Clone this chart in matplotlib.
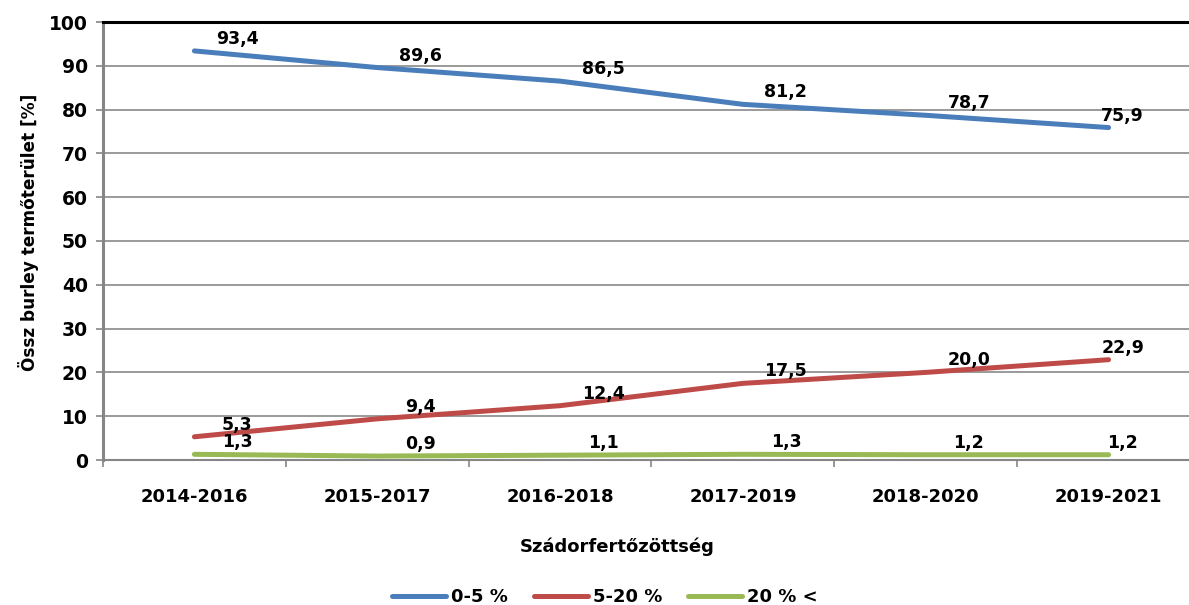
import matplotlib.pyplot as plt
import numpy as np

plt.rcParams['font.family'] = ['DejaVu Sans']
plt.rcParams['font.weight'] = 'bold'

# Data
periods = ["2014-2016", "2015-2017", "2016-2018", "2017-2019", "2018-2020", "2019-2021"]
low = [93.4, 89.6, 86.5, 81.2, 78.7, 75.9]
mid = [5.3, 9.4, 12.4, 17.5, 20.0, 22.9]
high = [1.3, 0.9, 1.1, 1.3, 1.2, 1.2]
series_names = ["0-5 %", "5-20 %", "20 % <"]

colors = ['#4A7EBB', '#BE4B48', '#98B954']

fig = plt.figure(figsize=(11.89, 6.05), dpi=100)
W, H = 1189, 605
ax = fig.add_axes([103 / W, 1 - 460 / H, (1200 - 103) / W, (460 - 22) / H])

x = np.arange(len(periods))
for vals, name, c in zip([low, mid, high], series_names, colors):
    ax.plot(x, vals, color=c, lw=3.6, solid_capstyle='round', label=name, zorder=3)
    for i, v in enumerate(vals):
        dx = 14 if i == len(vals) - 1 else 43
        ax.annotate(f"{v:.1f}".replace('.', ','), (i, v), xytext=(dx, 12),
                    textcoords='offset pixels', ha='center', va='center',
                    fontsize=12.5, fontweight='bold', color='black', zorder=4)

ax.set_xlim(-0.5, 5.5)
ax.set_ylim(0, 100)
ax.set_yticks(np.arange(0, 101, 10))
ax.set_xticks(x)
ax.set_xticklabels(periods)
ax.set_xticks(np.arange(-0.5, 6, 1), minor=True)
ax.tick_params(axis='x', which='major', length=0, pad=20, labelsize=13)
ax.tick_params(axis='x', which='minor', length=5, color='#868686', width=1.2)
ax.tick_params(axis='y', length=5, color='#868686', width=1.2, labelsize=13.5, pad=6)

ax.grid(axis='y', color='#929292', lw=1.3, zorder=0)
ax.spines['right'].set_visible(False)
ax.spines['top'].set_color('black')
ax.spines['top'].set_linewidth(2.2)
ax.spines['left'].set_color('#868686')
ax.spines['left'].set_linewidth(2.2)
ax.spines['bottom'].set_color('#868686')
ax.spines['bottom'].set_linewidth(1.5)

fig.text(29 / W, 1 - 232 / H, "Össz burley termőterület [%]", rotation=90,
         ha='center', va='center', fontsize=12.2, fontweight='bold')
fig.text(617 / W, 1 - 547 / H, "Szádorfertőzöttség", ha='center', va='center',
         fontsize=13, fontweight='bold')

fig.legend(loc='center', bbox_to_anchor=(605 / W, 1 - 597 / H), ncol=3, frameon=False,
           fontsize=13, handlelength=3.0, handletextpad=0.3, columnspacing=1.4)

plt.savefig('out.png', dpi=100)
